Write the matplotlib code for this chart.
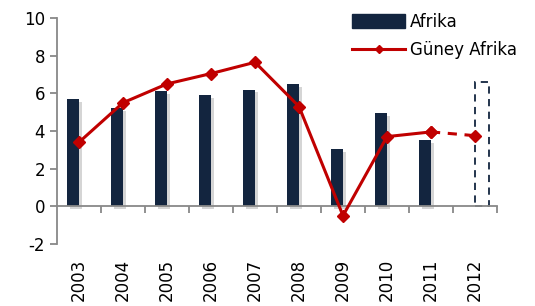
import numpy as np
import matplotlib.pyplot as plt
import matplotlib.patheffects as pe
from matplotlib.patches import Patch
from matplotlib.lines import Line2D

plt.rcParams['axes.unicode_minus'] = False

years = ['2003', '2004', '2005', '2006', '2007', '2008', '2009', '2010', '2011', '2012']
afrika = [5.7, 5.2, 6.1, 5.9, 6.2, 6.5, 3.05, 4.95, 3.5]
guney_afrika = [3.4, 5.5, 6.5, 7.05, 7.65, 5.3, -0.5, 3.7, 3.95, 3.75]
afrika_2012 = 6.6

navy = '#13253f'
red = '#c00000'

fig = plt.figure(figsize=(5.35, 3.06), dpi=100)
ax = fig.add_axes([0.1065, 0.203, 0.8225, 0.738])

x = np.arange(len(years))
shadow = [pe.SimplePatchShadow(offset=(2.5, -2), shadow_rgbFace='#777777', alpha=0.3), pe.Normal()]

# actual bars (left of category centre)
ax.bar(x[:9] - 0.14, afrika, width=0.27, color=navy, zorder=2, path_effects=shadow)
# forecast bar, dashed outline
ax.bar(x[9] + 0.16, afrika_2012, width=0.32, facecolor='none', edgecolor=navy,
       linestyle=(0, (4, 3)), linewidth=1.3, zorder=2)

# line: solid up to 2011, dashed to 2012
ax.plot(x[:9], guney_afrika[:9], color=red, lw=2.2, marker='D', ms=6, zorder=3)
ax.plot(x[8:], guney_afrika[8:], color=red, lw=2.2, ls=(0, (3, 2.5)), marker='D', ms=6, zorder=3)

ax.set_xlim(-0.5, 9.5)
ax.set_ylim(-2, 10)
ax.set_yticks(range(-2, 11, 2))

for s in ['top', 'right']:
    ax.spines[s].set_visible(False)
ax.spines['left'].set_color('#888888')
ax.spines['left'].set_linewidth(1.3)
ax.spines['bottom'].set_position(('data', 0))
ax.spines['bottom'].set_color('#888888')
ax.spines['bottom'].set_linewidth(1.3)

ax.set_xticks(x)
ax.set_xticklabels(years, rotation=90, fontsize=12)
ax.tick_params(axis='x', which='major', length=0, pad=38)
ax.set_xticks(np.arange(0.5, 10, 1), minor=True)
ax.tick_params(axis='x', which='minor', length=5, width=1.3, color='#888888', direction='out')
ax.tick_params(axis='y', length=5, width=1.3, color='#888888', labelsize=12)

handles = [Patch(color=navy),
           Line2D([], [], color=red, lw=2.2, marker='D', ms=4.5)]
ax.legend(handles, ['Afrika', 'Güney Afrika'], loc='upper right', bbox_to_anchor=(1.08, 1.09),
          frameon=False, fontsize=12, handlelength=3.2, handleheight=0.85,
          handletextpad=0.3, labelspacing=0.6)

fig.savefig('out.png', dpi=100)
